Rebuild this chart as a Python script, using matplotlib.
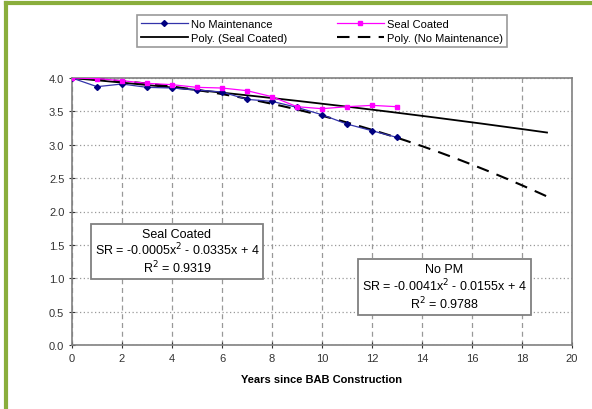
import matplotlib
matplotlib.use("Agg")
import matplotlib.pyplot as plt
import numpy as np
from matplotlib.lines import Line2D

plt.rcParams['font.family'] = ['Liberation Sans', 'DejaVu Sans']

years = [0, 1, 2, 3, 4, 5, 6, 7, 8, 9, 10, 11, 12, 13]
no_maint = [4.00, 3.87, 3.91, 3.86, 3.85, 3.82, 3.79, 3.68, 3.65, 3.56, 3.45, 3.31, 3.21, 3.11]
seal_coated = [4.00, 3.99, 3.96, 3.92, 3.90, 3.86, 3.85, 3.81, 3.72, 3.57, 3.54, 3.57, 3.59, 3.57]
seal_coef = [-0.0005, -0.0335, 4.0]
nopm_coef = [-0.0041, -0.0155, 4.0]
trend_x = [0, 19]

fig = plt.figure(figsize=(5.92, 4.10), dpi=100)
ax = fig.add_axes([72/592, 1-346/410, 500/592, 267/410])

# green frame on top and left
fig.add_artist(Line2D([6/592, 6/592], [0, 1-4/410], color='#8aae3c', lw=3, transform=fig.transFigure))
fig.add_artist(Line2D([6/592, 1], [1-4/410, 1-4/410], color='#8aae3c', lw=3, transform=fig.transFigure))

xs = np.linspace(trend_x[0], trend_x[1], 200)
ax.plot(xs, np.polyval(seal_coef, xs), color='black', lw=1.3, zorder=3)
ax.plot(xs, np.polyval(nopm_coef, xs), color='black', lw=1.5, ls=(0, (6, 4)), zorder=3)
ax.plot(years, no_maint, color='#3333aa', lw=0.9, marker='D', ms=3, mfc='#000080', mec='#000080', zorder=4)
ax.plot(years, seal_coated, color='#ff00ff', lw=0.9, marker='s', ms=3.5, mfc='#ff00ff', mec='#ff00ff', zorder=4)

ax.set_xlim(0, 20)
ax.set_ylim(0, 4)
ax.set_xticks(range(0, 21, 2))
ax.set_yticks(np.arange(0, 4.01, 0.5))
ax.set_yticklabels([f"{v:.1f}" for v in np.arange(0, 4.01, 0.5)])
ax.tick_params(labelsize=8, colors='#333333', length=4, direction='inout', width=0.8)
ax.xaxis.grid(True, ls=(0, (4, 3)), color='#999999', lw=0.9)
ax.yaxis.grid(True, ls=(0, (1, 2)), color='#999999', lw=0.9)
for s in ax.spines.values():
    s.set_color('#808080')
    s.set_linewidth(1.2)
ax.set_xlabel('Years since BAB Construction', fontsize=8, fontweight='bold', labelpad=8)

h_nm = Line2D([], [], color='#3333aa', lw=0.9, marker='D', ms=3, mfc='#000080', mec='#000080')
h_sc = Line2D([], [], color='#ff00ff', lw=0.9, marker='s', ms=3.5, mfc='#ff00ff', mec='#ff00ff')
h_ps = Line2D([], [], color='black', lw=1.3)
h_pn = Line2D([], [], color='black', lw=1.5, ls=(0, (6, 4)))
handles = [h_nm, h_ps, h_sc, h_pn]
labels = ['No Maintenance', 'Poly. (Seal Coated)', 'Seal Coated', 'Poly. (No Maintenance)']
leg = fig.legend(handles, labels, ncol=2, loc='center', bbox_to_anchor=(322/592, 1-32/410),
                 fontsize=8, frameon=True, fancybox=False, edgecolor='#808080',
                 handlelength=4.2, columnspacing=4.5, handletextpad=0.3, borderpad=0.35, labelspacing=0.3)
leg.get_frame().set_linewidth(1.2)

bbox = dict(boxstyle='square,pad=0.3', fc='white', ec='#808080', lw=1.3)
ax.text(4.2, 1.40, 'Seal Coated\nSR = -0.0005x$^2$ - 0.0335x + 4\nR$^2$ = 0.9319', fontsize=9,
        ha='center', va='center', linespacing=1.1, bbox=bbox, zorder=5)
ax.text(14.9, 0.87, 'No PM\nSR = -0.0041x$^2$ - 0.0155x + 4\nR$^2$ = 0.9788', fontsize=9,
        ha='center', va='center', linespacing=1.1, bbox=bbox, zorder=5)

fig.savefig('out.png', dpi=100)
